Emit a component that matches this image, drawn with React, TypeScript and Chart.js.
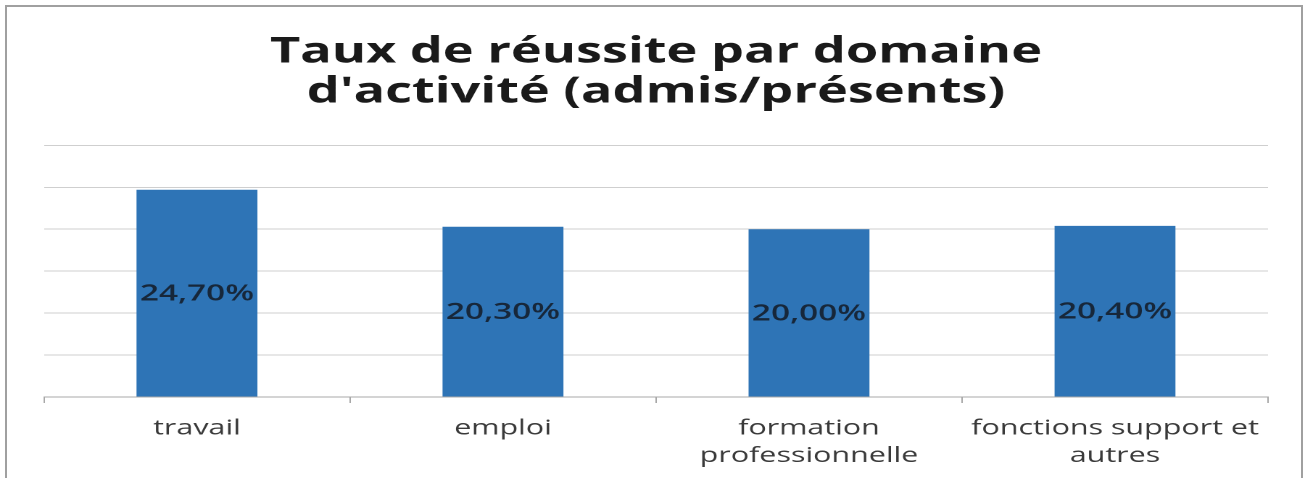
import React, { useEffect, useRef } from "react";
import { Chart, registerables } from "chart.js";

Chart.register(...registerables);

const titleLines: string[] = ["Taux de réussite par domaine", "d'activité (admis/présents)"];
const categories: (string | string[])[] = [
  "travail",
  "emploi",
  ["formation", "professionnelle"],
  ["fonctions support et", "autres"],
];
const tauxReussite: number[] = [24.7, 20.3, 20.0, 20.4];
const yMin = 0;
const yMax = 30;
const yStep = 5;

const STRETCH = 1.45;
const FULL_W = 1309;
const FULL_H = 478;
const CANVAS_W = Math.round(FULL_W / STRETCH);
const CANVAS_H = 483;
const FONT = '"Open Sans", "DejaVu Sans", sans-serif';

const fmt = (v: number) => v.toFixed(2).replace(".", ",") + "%";

const barLabels = {
  id: "barLabels",
  afterDatasetsDraw(chart: any) {
    const ctx = chart.ctx;
    const meta = chart.getDatasetMeta(0);
    const ds = chart.data.datasets[0];
    ctx.save();
    ctx.font = `600 23px ${FONT}`;
    ctx.fillStyle = "#17273a";
    ctx.textAlign = "center";
    ctx.textBaseline = "middle";
    meta.data.forEach((el: any, i: number) => {
      const { x, y, base } = el.getProps(["x", "y", "base"], true);
      ctx.fillText(fmt(ds.data[i] as number), x, (y + base) / 2 + 1);
    });
    ctx.restore();
  },
};

export default function App() {
  const ref = useRef<HTMLCanvasElement>(null);
  useEffect(() => {
    if (!ref.current) return;
    const chart = new Chart(ref.current, {
      type: "bar",
      data: {
        labels: categories,
        datasets: [
          {
            data: tauxReussite,
            backgroundColor: "#2e74b6",
            borderWidth: 0,
            barPercentage: 0.395,
            categoryPercentage: 1,
          },
        ],
      },
      options: {
        animation: false,
        responsive: false,
        devicePixelRatio: 2,
        layout: { padding: { left: 30.3, right: 28.5, top: 0, bottom: 1.4 } },
        plugins: {
          legend: { display: false },
          tooltip: { enabled: false },
          title: {
            display: true,
            text: titleLines,
            color: "#1a1a1a",
            font: { family: FONT, size: 36, weight: "bold", lineHeight: 1.12 },
            padding: { top: 32, bottom: 32.7 },
          },
        },
        scales: {
          x: {
            grid: {
              display: true,
              drawOnChartArea: false,
              drawTicks: true,
              tickLength: 6,
              color: "#a8a8a8",
              offset: true,
            },
            border: { display: true, color: "#a8a8a8" },
            ticks: {
              autoSkip: false,
              maxRotation: 0,
              minRotation: 0,
              padding: 12,
              color: "#3a3a3a",
              font: { family: FONT, size: 21, lineHeight: 1.3 },
            },
          },
          y: {
            min: yMin,
            max: yMax,
            ticks: { display: false, stepSize: yStep },
            grid: { drawTicks: false, color: "#cfcfcf" },
            border: { display: false },
          },
        },
      },
      plugins: [barLabels],
    });
    return () => chart.destroy();
  }, []);

  return (
    <div
      style={{
        position: "absolute",
        left: 0,
        top: 0,
        width: FULL_W,
        height: FULL_H,
        overflow: "hidden",
        background: "#ffffff",
      }}
    >
      <div style={{ position: "absolute", left: 0, top: 0, transform: `scaleX(${STRETCH})`, transformOrigin: "0 0" }}>
        <canvas ref={ref} width={CANVAS_W} height={CANVAS_H} />
      </div>
      <div
        style={{
          position: "absolute",
          left: 5,
          top: 5,
          width: 1298,
          height: 500,
          border: "2px solid #a0a0a0",
          boxSizing: "border-box",
          pointerEvents: "none",
        }}
      />
    </div>
  );
}
